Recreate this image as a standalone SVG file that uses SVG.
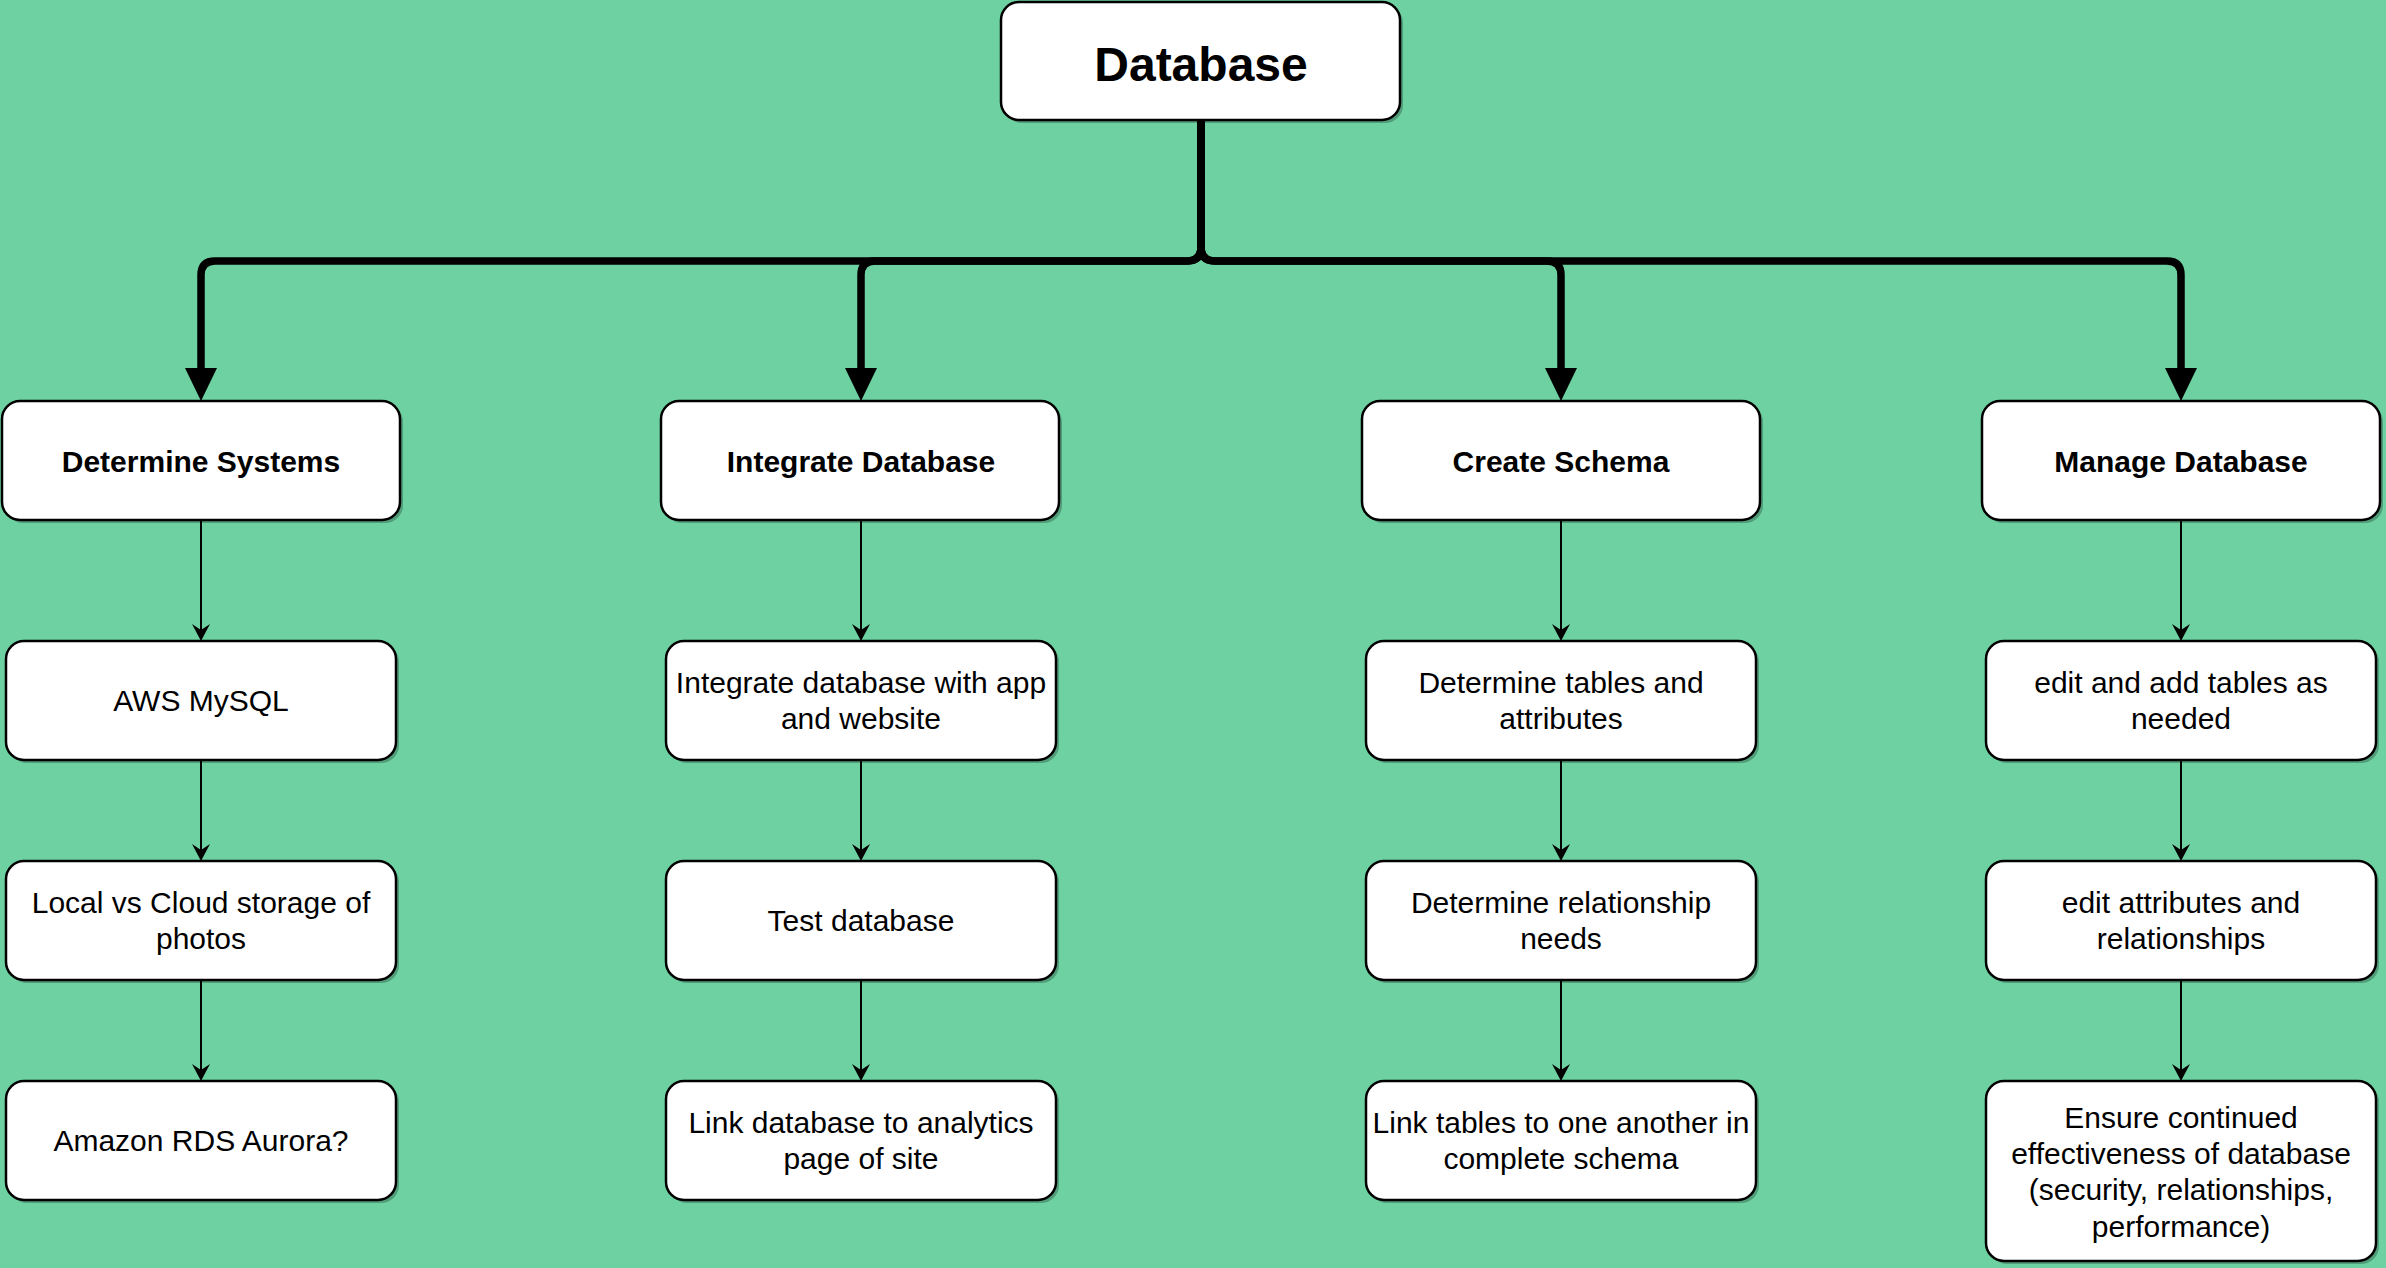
<svg xmlns="http://www.w3.org/2000/svg" width="2386" height="1268" viewBox="0 0 2386 1268">
<defs>
<style>
.box{fill:#ffffff;stroke:#000000;stroke-width:2.5;}
.sh{fill:#000000;fill-opacity:0.25;}
.t{font-family:"Liberation Sans",Arial,sans-serif;font-size:30px;fill:#000000;text-anchor:middle;}
.b{font-weight:bold;}
.root{font-family:"Liberation Sans",Arial,sans-serif;font-size:48px;font-weight:bold;fill:#000000;text-anchor:middle;}
.thick{fill:none;stroke:#000000;stroke-width:7.5;stroke-linejoin:round;}
.thin{fill:none;stroke:#000000;stroke-width:2;}
.ah{fill:#000000;stroke:none;}
</style>
</defs>
<rect x="0" y="0" width="2386" height="1268" fill="#6DD1A2"/>

<g id="connectors">
  <path class="thick" d="M1201 120 V247 Q1201 261 1187 261 H215 Q201 261 201 275 V372"/>
  <path class="thick" d="M1201 120 V247 Q1201 261 1187 261 H875 Q861 261 861 275 V372"/>
  <path class="thick" d="M1201 120 V247 Q1201 261 1215 261 H1547 Q1561 261 1561 275 V372"/>
  <path class="thick" d="M1201 120 V247 Q1201 261 1215 261 H2167 Q2181 261 2181 275 V372"/>
  <polygon class="ah" points="185,368 217,368 201,401"/>
  <polygon class="ah" points="845,368 877,368 861,401"/>
  <polygon class="ah" points="1545,368 1577,368 1561,401"/>
  <polygon class="ah" points="2165,368 2197,368 2181,401"/>

  <path class="thin" d="M201 521 V630 M201 760 V850 M201 981 V1070"/>
  <path class="thin" d="M861 521 V630 M861 760 V850 M861 981 V1070"/>
  <path class="thin" d="M1561 521 V630 M1561 760 V850 M1561 981 V1070"/>
  <path class="thin" d="M2181 521 V630 M2181 760 V850 M2181 981 V1070"/>
  <g class="ah">
    <path d="M201 641 L192 624 L201 630 L210 624 Z"/>
    <path d="M201 861 L192 844 L201 850 L210 844 Z"/>
    <path d="M201 1081 L192 1064 L201 1070 L210 1064 Z"/>
    <path d="M861 641 L852 624 L861 630 L870 624 Z"/>
    <path d="M861 861 L852 844 L861 850 L870 844 Z"/>
    <path d="M861 1081 L852 1064 L861 1070 L870 1064 Z"/>
    <path d="M1561 641 L1552 624 L1561 630 L1570 624 Z"/>
    <path d="M1561 861 L1552 844 L1561 850 L1570 844 Z"/>
    <path d="M1561 1081 L1552 1064 L1561 1070 L1570 1064 Z"/>
    <path d="M2181 641 L2172 624 L2181 630 L2190 624 Z"/>
    <path d="M2181 861 L2172 844 L2181 850 L2190 844 Z"/>
    <path d="M2181 1081 L2172 1064 L2181 1070 L2190 1064 Z"/>
  </g>
</g>

<g id="root">
  <rect class="sh" x="1004" y="5" width="399" height="118" rx="18"/>
  <rect class="box" x="1001" y="2" width="399" height="118" rx="18"/>
  <text class="root" x="1201" y="81">Database</text>
</g>

<g id="determine-systems">
  <rect class="sh" x="5" y="404" width="398" height="119" rx="18"/>
  <rect class="box" x="2" y="401" width="398" height="119" rx="18"/>
  <text class="t b" x="201" y="472">Determine Systems</text>
</g>
<g id="integrate-database">
  <rect class="sh" x="664" y="404" width="398" height="119" rx="18"/>
  <rect class="box" x="661" y="401" width="398" height="119" rx="18"/>
  <text class="t b" x="861" y="472">Integrate Database</text>
</g>
<g id="create-schema">
  <rect class="sh" x="1365" y="404" width="398" height="119" rx="18"/>
  <rect class="box" x="1362" y="401" width="398" height="119" rx="18"/>
  <text class="t b" x="1561" y="472">Create Schema</text>
</g>
<g id="manage-database">
  <rect class="sh" x="1985" y="404" width="398" height="119" rx="18"/>
  <rect class="box" x="1982" y="401" width="398" height="119" rx="18"/>
  <text class="t b" x="2181" y="472">Manage Database</text>
</g>

<g id="aws-mysql">
  <rect class="sh" x="9" y="644" width="390" height="119" rx="18"/>
  <rect class="box" x="6" y="641" width="390" height="119" rx="18"/>
  <text class="t" x="201" y="711">AWS MySQL</text>
</g>
<g id="local-vs-cloud">
  <rect class="sh" x="9" y="864" width="390" height="119" rx="18"/>
  <rect class="box" x="6" y="861" width="390" height="119" rx="18"/>
  <text class="t" x="201" y="913">Local vs Cloud storage of</text>
  <text class="t" x="201" y="949">photos</text>
</g>
<g id="amazon-rds">
  <rect class="sh" x="9" y="1084" width="390" height="119" rx="18"/>
  <rect class="box" x="6" y="1081" width="390" height="119" rx="18"/>
  <text class="t" x="201" y="1151">Amazon RDS Aurora?</text>
</g>

<g id="integrate-app">
  <rect class="sh" x="669" y="644" width="390" height="119" rx="18"/>
  <rect class="box" x="666" y="641" width="390" height="119" rx="18"/>
  <text class="t" x="861" y="693">Integrate database with app</text>
  <text class="t" x="861" y="729">and website</text>
</g>
<g id="test-database">
  <rect class="sh" x="669" y="864" width="390" height="119" rx="18"/>
  <rect class="box" x="666" y="861" width="390" height="119" rx="18"/>
  <text class="t" x="861" y="931">Test database</text>
</g>
<g id="link-analytics">
  <rect class="sh" x="669" y="1084" width="390" height="119" rx="18"/>
  <rect class="box" x="666" y="1081" width="390" height="119" rx="18"/>
  <text class="t" x="861" y="1133">Link database to analytics</text>
  <text class="t" x="861" y="1169">page of site</text>
</g>

<g id="determine-tables">
  <rect class="sh" x="1369" y="644" width="390" height="119" rx="18"/>
  <rect class="box" x="1366" y="641" width="390" height="119" rx="18"/>
  <text class="t" x="1561" y="693">Determine tables and</text>
  <text class="t" x="1561" y="729">attributes</text>
</g>
<g id="determine-relationship">
  <rect class="sh" x="1369" y="864" width="390" height="119" rx="18"/>
  <rect class="box" x="1366" y="861" width="390" height="119" rx="18"/>
  <text class="t" x="1561" y="913">Determine relationship</text>
  <text class="t" x="1561" y="949">needs</text>
</g>
<g id="link-tables">
  <rect class="sh" x="1369" y="1084" width="390" height="119" rx="18"/>
  <rect class="box" x="1366" y="1081" width="390" height="119" rx="18"/>
  <text class="t" x="1561" y="1133">Link tables to one another in</text>
  <text class="t" x="1561" y="1169">complete schema</text>
</g>

<g id="edit-add-tables">
  <rect class="sh" x="1989" y="644" width="390" height="119" rx="18"/>
  <rect class="box" x="1986" y="641" width="390" height="119" rx="18"/>
  <text class="t" x="2181" y="693">edit and add tables as</text>
  <text class="t" x="2181" y="729">needed</text>
</g>
<g id="edit-attributes">
  <rect class="sh" x="1989" y="864" width="390" height="119" rx="18"/>
  <rect class="box" x="1986" y="861" width="390" height="119" rx="18"/>
  <text class="t" x="2181" y="913">edit attributes and</text>
  <text class="t" x="2181" y="949">relationships</text>
</g>
<g id="ensure-effectiveness">
  <rect class="sh" x="1989" y="1084" width="390" height="180" rx="18"/>
  <rect class="box" x="1986" y="1081" width="390" height="180" rx="18"/>
  <text class="t" x="2181" y="1128">Ensure continued</text>
  <text class="t" x="2181" y="1164">effectiveness of database</text>
  <text class="t" x="2181" y="1200">(security, relationships,</text>
  <text class="t" x="2181" y="1237">performance)</text>
</g>
</svg>
